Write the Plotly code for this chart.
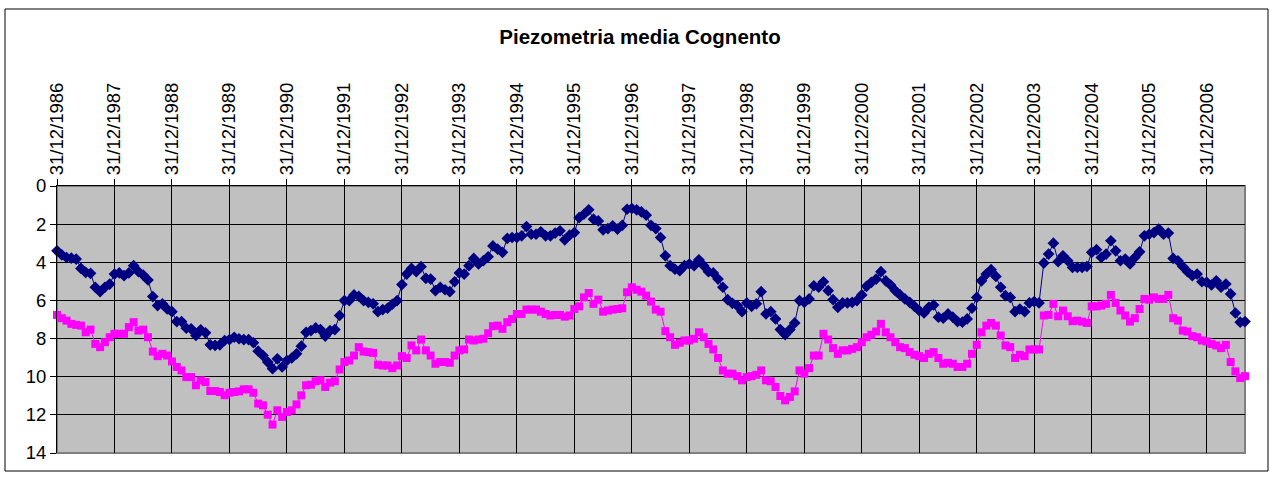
import plotly.graph_objects as go

# ---- data (monthly, from 31/12/1986 to 31/08/2007) ----
start_year, start_month, n_points = 1986, 12, 249
month_days = [31, 28, 31, 30, 31, 30, 31, 31, 30, 31, 30, 31]

def month_end_label(i):
    y = start_year + (start_month - 1 + i) // 12
    m = (start_month - 1 + i) % 12 + 1
    d = month_days[m - 1]
    if m == 2 and (y % 4 == 0):
        d = 29
    return f"{d:02d}/{m:02d}/{y}"

dates = [month_end_label(i) for i in range(n_points)]

navy_values = [
    3.40, 3.61, 3.75, 3.78, 3.83, 4.32, 4.53, 4.58, 5.31, 5.54, 5.31, 5.14,
    4.62, 4.56, 4.70, 4.56, 4.18, 4.49, 4.67, 4.93, 5.80, 6.27, 6.18, 6.45,
    6.59, 7.11, 7.11, 7.46, 7.49, 7.84, 7.54, 7.70, 8.33, 8.36, 8.33, 8.10,
    8.05, 7.93, 8.01, 8.05, 8.05, 8.22, 8.66, 8.89, 9.23, 9.58, 9.06, 9.49,
    9.15, 9.02, 8.80, 8.40, 7.67, 7.58, 7.44, 7.53, 7.87, 7.58, 7.53, 6.79,
    6.01, 6.01, 5.71, 5.78, 6.01, 6.10, 6.18, 6.59, 6.48, 6.41, 6.20, 6.01,
    5.17, 4.62, 4.32, 4.49, 4.23, 4.84, 4.88, 5.49, 5.31, 5.44, 5.54, 5.02,
    4.56, 4.62, 4.18, 3.80, 4.09, 3.92, 3.71, 3.14, 3.31, 3.48, 2.75, 2.70,
    2.70, 2.61, 2.13, 2.53, 2.53, 2.40, 2.61, 2.61, 2.47, 2.35, 2.82, 2.58,
    2.44, 1.66, 1.48, 1.25, 1.74, 1.83, 2.30, 2.23, 2.09, 2.26, 2.06, 1.22,
    1.18, 1.25, 1.36, 1.53, 2.06, 2.23, 2.70, 3.66, 4.18, 4.36, 4.44, 4.18,
    4.09, 4.18, 3.87, 4.18, 4.49, 4.56, 4.88, 5.31, 5.96, 6.15, 6.27, 6.59,
    6.13, 6.31, 6.18, 5.54, 6.71, 6.59, 6.97, 7.53, 7.80, 7.53, 7.18, 6.01,
    6.10, 5.92, 5.23, 5.31, 5.02, 5.49, 5.96, 6.36, 6.13, 6.13, 6.10, 6.01,
    5.71, 5.26, 5.05, 4.88, 4.49, 4.97, 5.19, 5.49, 5.71, 5.92, 6.10, 6.31,
    6.53, 6.66, 6.36, 6.24, 6.88, 6.93, 6.71, 6.88, 7.11, 7.14, 6.97, 6.41,
    5.84, 4.97, 4.62, 4.39, 4.74, 5.31, 5.75, 5.84, 6.59, 6.45, 6.59, 6.13,
    6.06, 6.13, 4.04, 3.57, 3.00, 3.97, 3.66, 3.92, 4.27, 4.27, 4.27, 4.22,
    3.48, 3.34, 3.75, 3.57, 2.87, 3.40, 3.92, 3.83, 4.09, 3.75, 3.45, 2.61,
    2.53, 2.44, 2.26, 2.53, 2.47, 3.80, 3.92, 4.22, 4.49, 4.70, 4.62, 5.02,
    5.05, 5.19, 4.97, 5.31, 5.14, 5.66, 6.66, 7.14, 7.11,
]

magenta_values = [
    6.76, 6.93, 7.06, 7.23, 7.28, 7.32, 7.67, 7.53, 8.28, 8.45, 8.19, 7.93,
    7.75, 7.75, 7.75, 7.40, 7.14, 7.58, 7.53, 7.93, 8.68, 8.92, 8.80, 8.89,
    9.20, 9.49, 9.67, 10.02, 10.02, 10.45, 10.19, 10.28, 10.75, 10.75, 10.80, 10.97,
    10.84, 10.80, 10.77, 10.66, 10.66, 10.84, 11.41, 11.50, 11.99, 12.51, 11.76, 12.11,
    11.85, 11.76, 11.45, 10.98, 10.45, 10.42, 10.24, 10.19, 10.54, 10.31, 10.24, 9.62,
    9.23, 9.15, 8.89, 8.45, 8.68, 8.71, 8.75, 9.37, 9.41, 9.41, 9.55, 9.41,
    8.92, 9.02, 8.36, 8.62, 8.05, 8.62, 8.89, 9.32, 9.23, 9.23, 9.27, 8.89,
    8.62, 8.57, 8.05, 8.10, 8.05, 8.01, 7.72, 7.35, 7.32, 7.49, 7.14, 6.97,
    6.71, 6.71, 6.48, 6.48, 6.48, 6.59, 6.71, 6.79, 6.76, 6.76, 6.85, 6.79,
    6.45, 6.31, 5.84, 5.61, 6.18, 5.96, 6.59, 6.53, 6.48, 6.45, 6.41, 5.57,
    5.31, 5.44, 5.54, 5.75, 6.06, 6.48, 6.59, 7.61, 7.93, 8.33, 8.22, 8.10,
    8.10, 8.01, 7.67, 7.93, 8.28, 8.57, 9.02, 9.67, 9.84, 9.84, 9.97, 10.19,
    10.02, 9.97, 9.90, 9.67, 10.19, 10.24, 10.54, 11.01, 11.24, 11.06, 10.77, 9.67,
    9.84, 9.55, 8.89, 8.89, 7.75, 8.05, 8.50, 8.80, 8.62, 8.62, 8.54, 8.45,
    8.19, 7.93, 7.80, 7.63, 7.23, 7.67, 7.93, 8.19, 8.45, 8.50, 8.71, 8.85,
    8.92, 9.02, 8.80, 8.71, 9.02, 9.32, 9.27, 9.32, 9.49, 9.49, 9.32, 8.80,
    8.33, 7.67, 7.32, 7.18, 7.32, 7.84, 8.36, 8.45, 9.02, 8.85, 8.92, 8.57,
    8.57, 8.57, 6.79, 6.76, 6.18, 6.83, 6.53, 6.83, 7.09, 7.06, 7.11, 7.18,
    6.31, 6.31, 6.27, 6.18, 5.71, 6.13, 6.53, 6.79, 7.11, 6.93, 6.45, 5.92,
    5.96, 5.84, 5.92, 5.92, 5.71, 6.93, 7.06, 7.58, 7.63, 7.87, 7.93, 8.10,
    8.15, 8.28, 8.36, 8.50, 8.33, 9.23, 9.72, 10.07, 9.97,
]

tick_labels = [f"31/12/{y}" for y in range(1986, 2007)]
y_ticks = [0, 2, 4, 6, 8, 10, 12, 14]
title_text = "Piezometria media Cognento"

FONT = "Liberation Sans, Arial, sans-serif"

fig = go.Figure()
fig.add_trace(go.Scatter(
    x=dates, y=navy_values, mode="lines+markers",
    line=dict(color="#000080", width=1),
    marker=dict(symbol="diamond", size=9, color="#000080"),
    cliponaxis=False, showlegend=False,
))
fig.add_trace(go.Scatter(
    x=dates, y=magenta_values, mode="lines+markers",
    line=dict(color="#FF00FF", width=1),
    marker=dict(symbol="square", size=8, color="#FF00FF"),
    cliponaxis=False, showlegend=False,
))

fig.update_layout(
    width=1274, height=477,
    margin=dict(l=57, r=29, t=186, b=24, autoexpand=False),
    paper_bgcolor="white",
    plot_bgcolor="#C0C0C0",
    font=dict(family=FONT, size=18, color="black"),
    title=dict(text=f"<b>{title_text}</b>", x=640 / 1274, xanchor="center",
               y=1 - 37 / 477, yanchor="middle", yref="container",
               font=dict(family=FONT, size=20.5, color="black")),
    xaxis=dict(
        type="category", side="top", range=[0, len(dates) - 1],
        tickmode="array", tickvals=tick_labels, ticktext=tick_labels,
        tickangle=-90, ticks="outside", ticklen=6, tickcolor="black",
        showgrid=True, gridcolor="black", gridwidth=1,
        showline=True, linecolor="black", linewidth=1,
        tickfont=dict(family=FONT, size=18.5, color="black"),
        zeroline=False, automargin=False,
    ),
    yaxis=dict(
        range=[14, 0], tickmode="array", tickvals=y_ticks,
        ticks="outside", ticklen=6, tickcolor="black",
        showgrid=True, gridcolor="black", gridwidth=1,
        showline=True, linecolor="black", linewidth=1,
        tickfont=dict(family=FONT, size=18.5, color="black"),
        zeroline=False, automargin=False,
    ),
    shapes=[
        dict(type="rect", xref="paper", yref="paper", x0=0, x1=1, y0=0, y1=1,
             line=dict(color="#808080", width=2), layer="below"),
        dict(type="rect", xref="paper", yref="paper",
             x0=-52 / 1188, x1=1211 / 1188, y0=-18 / 267, y1=444 / 267,
             line=dict(color="black", width=1), layer="below"),
    ],
)

fig.write_html("out.html",
               config={"displayModeBar": False},
               post_script="document.body.style.margin='0';document.body.style.overflow='hidden';")
